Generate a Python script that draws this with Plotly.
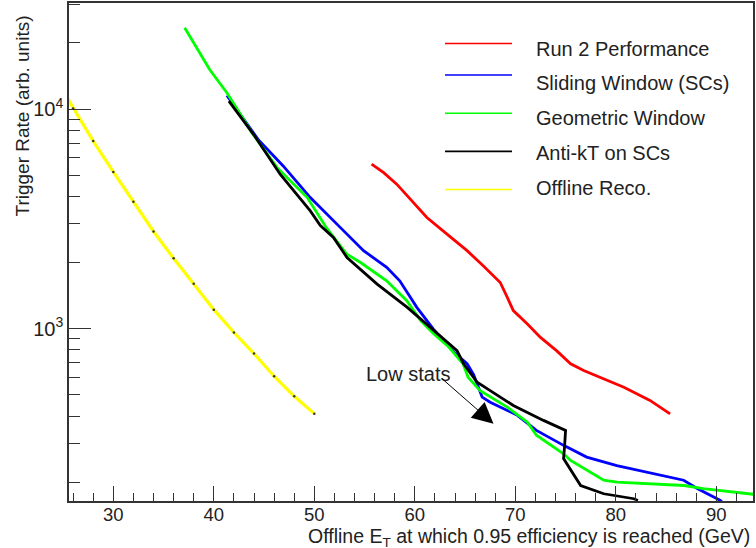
import plotly.graph_objects as go

# Series names and colours
series_names = ["Run 2 Performance", "Sliding Window (SCs)", "Geometric Window",
                "Anti-kT on SCs", "Offline Reco."]
series_colors = ["#ff0000", "#0000ff", "#00ff00", "#000000", "#ffff00"]

# Offline E_T (GeV) at which 0.95 efficiency is reached, and trigger rate
run2_et = [55.7, 56.9, 58.2, 61.2, 63.2, 65.2, 66.8, 68.5, 69.2, 69.8, 71.2,
           72.5, 74.1, 75.5, 76.8, 80.8, 83.4, 85.4]
run2_rate = [5610, 5130, 4550, 3206, 2692, 2265, 1932, 1622, 1387, 1208, 1050,
             912, 794, 692, 644, 541, 471, 409]

sliding_et = [41.3, 44.4, 46.9, 49.6, 52.6, 54.9, 57.2, 58.5, 60.2, 61.85, 63.85,
              65.2, 65.85, 66.7, 67.5, 68.5, 70.2, 72.1, 74.8, 77.1, 80.1, 86.75,
              88.1, 90.4, 91.0]
sliding_rate = [11530, 7278, 5508, 3954, 2884, 2265, 1901, 1652, 1250, 995, 785,
                692, 617, 488, 462, 439, 403, 344, 294, 260, 238, 204,
                187, 165, 155]

geometric_et = [37.1, 39.6, 41.3, 43.9, 46.3, 49.3, 51.2, 53.2, 54.6, 57.2, 59.2,
                60.6, 61.9, 63.3, 64.8, 65.3, 66.5, 67.5, 69.2, 71.2, 72.1, 74.8,
                75.5, 78.8, 80.1, 86.8, 88.7, 93.7, 95.0]
geometric_rate = [23440, 15100, 11860, 7670, 5410, 3954, 2884, 2188, 2000, 1652, 1340,
                  1086, 946, 832, 692, 601, 522, 488, 439, 375, 327, 269,
                  251, 204, 200, 193, 187, 176, 174]

antikt_et = [41.5, 43.95, 46.6, 47.9, 49.6, 50.6, 51.9, 53.25, 56.25, 59.25, 61.9,
             64.2, 64.85, 66.2, 67.5, 69.8, 72.8, 75.0, 74.9, 74.8, 76.5, 78.8,
             81.8, 82.2]
antikt_rate = [10860, 7674, 5047, 4276, 3436, 2950, 2600, 2109, 1596, 1250, 979,
               794, 692, 570, 522, 447, 382, 344, 290, 256, 193, 177,
               168, 165]

offline_et = [24, 26, 28, 30, 32, 34, 36, 38, 40, 42, 44, 46, 48, 50]
offline_rate = [14400, 10070, 7150, 5170, 3780, 2770, 2090, 1600, 1220, 960, 770,
                607, 492, 410]

series_x = [run2_et, sliding_et, geometric_et, antikt_et, offline_et]
series_y = [run2_rate, sliding_rate, geometric_rate, antikt_rate, offline_rate]

# Axis ticks
x_tick_step = 10
x_minor_step = 2
y_major_vals = [1000, 10000]
y_major_text = ["10<sup>3</sup>", "10<sup>4</sup>"]

FONT = "Liberation Sans, Arial, sans-serif"
TEXT = "#222222"
AXIS = "#333333"

fig = go.Figure()

for name, color, xs, ys in zip(series_names, series_colors, series_x, series_y):
    is_offline = name == "Offline Reco."
    fig.add_trace(go.Scatter(
        x=xs, y=ys, name=name,
        mode="lines+markers" if is_offline else "lines",
        line=dict(color=color, width=3.2 if is_offline else 2.8),
        marker=dict(color="#333333", size=2.5),
        showlegend=False,
    ))

# Minor y ticks at 2..9 times each decade
y_minor_vals = [m * d for d in (100, 1000, 10000) for m in range(2, 10)
                if 160 <= m * d <= 31000]

fig.update_layout(
    width=756, height=548,
    margin=dict(l=69, r=3, t=1, b=47),
    paper_bgcolor="white", plot_bgcolor="white",
    font=dict(family=FONT, size=20, color=TEXT),
    xaxis=dict(
        range=[25.59, 93.65],
        tick0=0, dtick=x_tick_step,
        ticks="inside", ticklen=15, tickwidth=1.3, tickcolor=AXIS,
        minor=dict(ticks="inside", ticklen=8, tickwidth=1.3, tickcolor=AXIS,
                   tick0=0, dtick=x_minor_step, showgrid=False),
        showgrid=False, zeroline=False,
        showline=True, linecolor=AXIS, linewidth=1.5, mirror=True,
        tickfont=dict(size=18.5, color=TEXT, family=FONT),
        ticklabelstandoff=-4,
    ),
    yaxis=dict(
        type="log",
        range=[2.215, 4.483],
        tickmode="array", tickvals=y_major_vals, ticktext=y_major_text,
        ticks="inside", ticklen=22, tickwidth=1.3, tickcolor=AXIS,
        minor=dict(ticks="inside", ticklen=11, tickwidth=1.3, tickcolor=AXIS,
                   tickmode="array", tickvals=y_minor_vals, showgrid=False),
        showgrid=False, zeroline=False,
        showline=True, linecolor=AXIS, linewidth=1.5, mirror=True,
        tickfont=dict(size=20, color=TEXT, family=FONT),
    ),
)

# Axis titles aligned to the far end of each axis
fig.add_annotation(
    text="Offline E<sub>T</sub> at which 0.95 efficiency is reached (GeV)",
    xref="paper", yref="paper", x=0.999, y=-0.0725,
    xanchor="right", yanchor="middle", showarrow=False,
    font=dict(size=19.5, color=TEXT, family=FONT),
)
fig.add_annotation(
    text="Trigger Rate (arb. units)",
    xref="paper", yref="paper", x=-0.0687, y=0.978,
    xanchor="center", yanchor="top", textangle=-90, showarrow=False,
    font=dict(size=19, color=TEXT, family=FONT),
)

# Legend drawn as short line samples with labels
legend_line_y = [41.7, 73.3, 111.7, 150.0, 188.3]
legend_text_y = [47.3, 81.7, 116.7, 151.7, 186.7]
plot_top, plot_h = 1.0, 500.0
plot_left, plot_w = 69.0, 684.0
for name, color, ly, ty in zip(series_names, series_colors, legend_line_y, legend_text_y):
    py = (plot_top + plot_h - ly) / plot_h
    fig.add_shape(type="line", xref="paper", yref="paper",
                  x0=(445 - plot_left) / plot_w, x1=(512 - plot_left) / plot_w,
                  y0=py, y1=py, line=dict(color=color, width=1.6))
    fig.add_annotation(text=name, xref="paper", yref="paper",
                       x=(534 - plot_left) / plot_w,
                       y=(plot_top + plot_h - ty) / plot_h,
                       xanchor="left", yanchor="middle", showarrow=False,
                       font=dict(size=20, color=TEXT, family=FONT))

# "Low stats" label with arrow
fig.add_annotation(text="Low stats", x=59.3, y=2.795, xref="x", yref="y",
                   showarrow=False, xanchor="center", yanchor="middle",
                   font=dict(size=20, color=TEXT, family=FONT))
fig.add_annotation(text="", x=67.83, y=2.567, ax=62.53, ay=2.779,
                   xref="x", yref="y", axref="x", ayref="y",
                   showarrow=True, arrowhead=2, arrowsize=4.2, arrowwidth=1,
                   arrowcolor="#000000", standoff=0)

fig.write_html("out.html")
